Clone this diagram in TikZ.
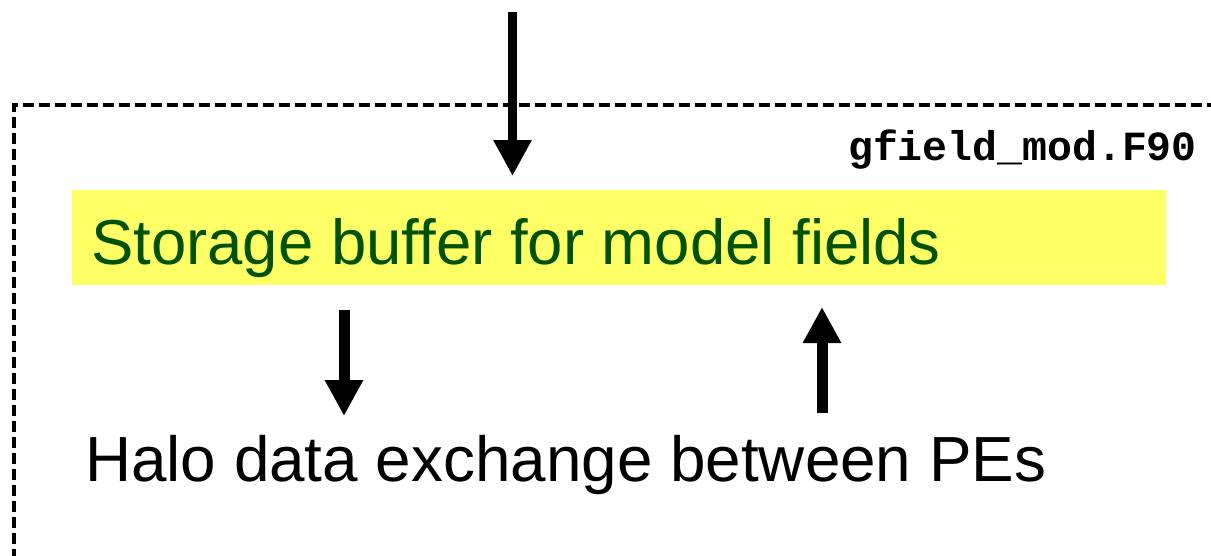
\documentclass[tikz,border=0pt]{standalone}
\usepackage{fontspec}
\setmainfont{Liberation Sans}
\newfontfamily\monob{Liberation Mono}
\usetikzlibrary{arrows.meta}
\definecolor{bufyellow}{RGB}{255,255,102}
\definecolor{bufgreen}{RGB}{0,82,0}
\tikzset{
  fatarrow/.style={line width=11pt, -{Triangle[width=36pt,length=36pt]}},
  frame/.style={line width=3.3pt, dash pattern=on 11pt off 5pt},
}
\begin{document}
\begin{tikzpicture}[x=1pt,y=-1pt]
\useasboundingbox (0,0) rectangle (1211,555);
\draw[frame] (14,560) |- (1215,105);
\fill[bufyellow] (72,190) rectangle (1166,285);
\node[anchor=base west, inner sep=0pt, text=bufgreen, font=\fontsize{63.5}{68}\selectfont] (buf) at (91,264) {Storage buffer for model fields};
\node[anchor=base east, inner sep=0pt, font=\monob\bfseries\fontsize{41.5}{45}\selectfont] (file) at (1197,160) {gfield\_mod.F90};
\node[anchor=base west, inner sep=0pt, font=\fontsize{63.8}{70}\selectfont] (halo) at (85,481) {Halo data exchange between PEs};
\coordinate (topstart) at (512.5,12);
\coordinate (toptip) at (512.5,176);
\coordinate (dstart) at (344,310);
\coordinate (dtip) at (344,416);
\coordinate (ustart) at (822,413);
\coordinate (utip) at (822,307);
\draw[fatarrow, line width=9.5pt] (topstart) -- (toptip);
\draw[fatarrow] (dstart) -- (dtip);
\draw[fatarrow] (ustart) -- (utip);
\end{tikzpicture}
\end{document}
